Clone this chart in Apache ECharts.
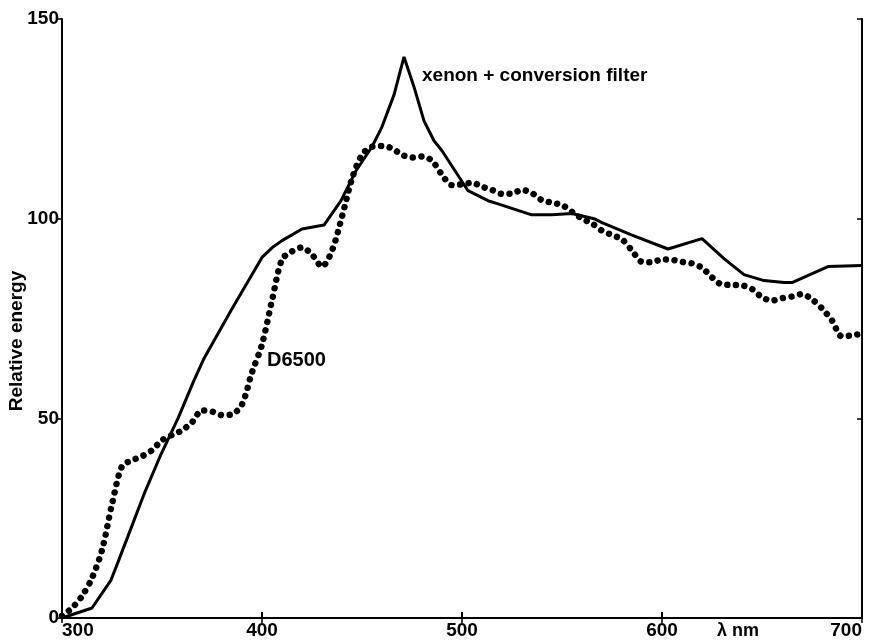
<!DOCTYPE html>
<html>
<head>
<meta charset="utf-8">
<title>Relative energy</title>
<script src="https://cdn.jsdelivr.net/npm/echarts@6.0.0/dist/echarts.min.js"></script>
<style>
  html, body { margin: 0; padding: 0; background: #fff; }
  #main { width: 871px; height: 642px; }
</style>
</head>
<body>
<div id="main"></div>
<script>
// x axis ticks (nm) and y axis ticks
const xTicks = [300, 400, 500, 600, 700]
const yTicks = [0, 50, 100, 150]

// D6500 (dotted)
const d65Wl = [300, 305, 310, 315, 320, 325, 330, 335, 340, 345, 350, 355, 360, 365, 370, 375, 380, 385, 390, 395,
  400, 405, 410, 415, 420, 425, 430, 435, 440, 445, 450, 455, 460, 465, 470, 475, 480, 485, 490, 495,
  500, 505, 510, 515, 520, 525, 530, 535, 540, 545, 550, 555, 560, 565, 570, 575, 580, 585, 590, 595,
  600, 605, 610, 615, 620, 625, 630, 635, 640, 645, 650, 655, 660, 665, 670, 675, 680, 685, 690, 695, 700]
const d65Val = [0.5, 2.5, 5.5, 10, 17, 28.5, 38, 39.5, 40.5, 42, 44.5, 45.8, 47, 49, 52, 51.7, 50.8, 51, 53.5, 61.5,
  68.5, 79.5, 89.8, 91.8, 92.8, 91, 88, 92, 100.5, 110, 116, 118, 118.2, 117.6, 116, 115.3, 115.6, 114.5, 111, 108.4,
  108.6, 109, 108, 107.2, 106.2, 106.3, 107.2, 106.4, 104.6, 104, 103.4, 101.7, 100, 98.8, 97, 95.9, 94.8, 92, 89.2, 89.1,
  89.8, 89.7, 89.2, 88.8, 87.7, 85.3, 83.5, 83.4, 83.3, 82.4, 80.3, 79.5, 80.1, 80.5, 81.1, 79.8, 77.5, 74.5, 70.5, 70.8, 71.2]

// xenon + conversion filter (solid)
const xeWl = [300, 315, 324.5, 328, 333, 341, 349.5, 358, 366, 371, 384.5, 400, 405, 410, 420, 431, 439.5, 447, 455, 460,
  466, 471, 476, 481, 486, 490, 503, 513, 518, 534.5, 545, 555, 566, 570, 585, 603, 620, 631, 641, 651, 661, 665, 683, 700]
const xeVal = [0, 2.5, 9.5, 14, 20.5, 31, 41, 50, 59.5, 65, 77, 90.3, 92.7, 94.5, 97.4, 98.4, 104.5, 112, 118, 123,
  131, 140.5, 133, 124.5, 119.5, 117, 107, 104.5, 103.7, 101, 101, 101.3, 100, 99, 95.9, 92.4, 95, 90, 86, 84.5, 84, 84, 88, 88.3]

const FONT = 'Liberation Sans, Arial, Helvetica, sans-serif'

let myChart = echarts.init(document.getElementById('main'))

const option = {
  backgroundColor: '#fff',
  animation: false,
  grid: { left: 62, right: 9, top: 19, bottom: 24, containLabel: false },
  xAxis: [{
    type: 'value', min: xTicks[0], max: xTicks[xTicks.length - 1], interval: 100, position: 'bottom',
    axisLine: { lineStyle: { color: '#000', width: 2 } },
    axisTick: { inside: true, length: 6, lineStyle: { color: '#000', width: 2 } },
    axisLabel: { margin: 3, color: '#000', fontSize: 19, fontWeight: 'bold', fontFamily: FONT,
      alignMinLabel: 'left', alignMaxLabel: 'right' },
    splitLine: { show: false }
  }, {
    type: 'value', min: xTicks[0], max: xTicks[xTicks.length - 1], interval: 100, position: 'top',
    axisLine: { lineStyle: { color: '#000', width: 1.5 } },
    axisTick: { inside: true, length: 5, lineStyle: { color: '#000', width: 1.5 } },
    axisLabel: { show: false },
    splitLine: { show: false }
  }],
  yAxis: [{
    type: 'value', min: yTicks[0], max: yTicks[yTicks.length - 1], interval: 50, position: 'left',
    axisLine: { show: true, lineStyle: { color: '#000', width: 2 } },
    axisTick: { show: true, length: 5, lineStyle: { color: '#000', width: 1.5 } },
    axisLabel: { margin: 3, color: '#000', fontSize: 19, fontWeight: 'bold', fontFamily: FONT },
    splitLine: { show: false }
  }, {
    type: 'value', min: yTicks[0], max: yTicks[yTicks.length - 1], interval: 50, position: 'right',
    axisLine: { show: true, lineStyle: { color: '#000', width: 2 } },
    axisTick: { show: true, inside: true, length: 5, lineStyle: { color: '#000', width: 1.5 } },
    axisLabel: { show: false },
    splitLine: { show: false }
  }],
  series: [{
    name: 'xenon + conversion filter',
    type: 'line',
    data: xeWl.map((w, i) => [w, xeVal[i]]),
    showSymbol: false,
    smooth: false,
    lineStyle: { color: '#000', width: 3 },
    z: 3
  }, {
    name: 'D6500',
    type: 'line',
    data: d65Wl.map((w, i) => [w, d65Val[i]]),
    showSymbol: false,
    smooth: 0.3,
    lineStyle: { color: '#000', width: 6.5, type: [0.01, 8.6], cap: 'round' },
    z: 2
  }],
  graphic: [
    { type: 'text', x: 17, y: 341, rotation: Math.PI / 2,
      style: { text: 'Relative energy', fill: '#000', font: 'bold 19px ' + FONT,
        align: 'center', verticalAlign: 'middle', textAlign: 'center', textVerticalAlign: 'middle' } },
    { type: 'text', x: 422, y: 76,
      style: { text: 'xenon + conversion filter', fill: '#000', font: 'bold 19px ' + FONT,
        align: 'left', verticalAlign: 'middle', textAlign: 'left', textVerticalAlign: 'middle' } },
    { type: 'text', x: 267, y: 360,
      style: { text: 'D6500', fill: '#000', font: 'bold 20px ' + FONT,
        align: 'left', verticalAlign: 'middle', textAlign: 'left', textVerticalAlign: 'middle' } },
    { type: 'text', x: 717, y: 631,
      style: { text: 'λ nm', fill: '#000', font: 'bold 18px ' + FONT,
        align: 'left', verticalAlign: 'middle', textAlign: 'left', textVerticalAlign: 'middle' } }
  ]
}

myChart.setOption(option)
window.onresize = () => {
  myChart.resize()
}
</script>
</body>
</html>
